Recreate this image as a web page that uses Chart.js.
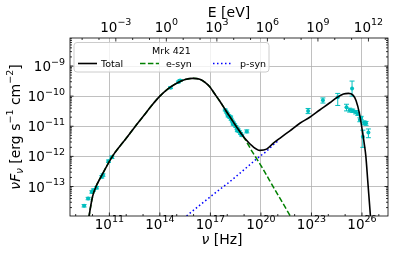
<!DOCTYPE html>
<html>
<head>
<meta charset="utf-8">
<script src="https://cdn.jsdelivr.net/npm/chart.js@4.4.0/dist/chart.umd.min.js"></script>
<style>
  html, body { margin: 0; padding: 0; background: #fff; }
</style>
</head>
<body>
<canvas id="myChart" width="411" height="257"></canvas>
<script>
// Modelo total (log10 nu [Hz], log10 nuFnu [erg s-1 cm-2])
const totalLogNu = [9.72, 9.80, 10.00, 10.20, 10.50, 11.19, 11.60, 12.00, 12.50, 13.00, 13.50, 14.00, 14.50, 15.00, 15.50, 15.95, 16.37, 16.70, 16.96, 17.26, 17.56, 17.96, 18.15, 18.55, 19.04, 19.53, 19.93, 20.33, 20.72, 21.12, 21.72, 22.31, 22.90, 23.49, 24.09, 24.50, 24.90, 25.20, 25.45, 25.65, 25.85, 26.04, 26.14, 26.23, 26.34, 26.43, 26.52];
const totalLogF  = [-14.30, -13.97, -13.34, -13.01, -12.68, -11.99, -11.68, -11.40, -11.03, -10.68, -10.32, -10.00, -9.75, -9.57, -9.45, -9.41, -9.44, -9.55, -9.69, -9.93, -10.17, -10.52, -10.68, -11.02, -11.40, -11.68, -11.80, -11.76, -11.57, -11.40, -11.15, -10.90, -10.70, -10.46, -10.22, -10.05, -9.93, -9.91, -9.96, -10.15, -10.58, -11.22, -11.60, -12.00, -12.80, -13.46, -14.12];

// Sincrotron de electrones
const esynLogNu = [9.72, 9.80, 10.00, 10.20, 10.50, 11.19, 11.60, 12.00, 12.50, 13.00, 13.50, 14.00, 14.50, 15.00, 15.50, 15.95, 16.37, 16.70, 16.96, 17.26, 17.56, 17.96, 18.15, 18.55, 19.04, 19.50, 20.03, 20.80, 21.71, 22.00];
const esynLogF  = [-14.30, -13.97, -13.34, -13.01, -12.68, -11.99, -11.68, -11.40, -11.03, -10.68, -10.32, -10.00, -9.75, -9.57, -9.45, -9.41, -9.44, -9.55, -9.69, -9.93, -10.17, -10.52, -10.68, -11.02, -11.42, -11.86, -12.33, -13.08, -13.95, -14.25];

// Sincrotron de protones (parte visible, despues queda bajo el total)
const psynLogNu = [15.40, 16.50, 17.50, 18.15, 19.00, 19.93, 20.33, 20.72, 21.00];
const psynLogF  = [-14.06, -13.56, -13.12, -12.84, -12.44, -12.00, -11.83, -11.62, -11.49];

// Observaciones Mrk 421 (log10 nu, log10 nuFnu, error abajo / arriba en dex)
const obsLogNu = [9.50, 9.74, 9.96, 10.05, 10.24, 10.55, 10.62, 10.95, 11.15,
  14.63, 15.10, 15.20,
  17.88, 17.95, 18.02, 18.05, 18.09, 18.16, 18.20, 18.23, 18.30, 18.35, 18.37, 18.44, 18.51, 18.58, 18.60, 18.65, 18.72, 18.79, 18.86, 19.16,
  22.80, 23.68, 24.56, 25.08, 25.27, 25.41, 25.45, 25.62, 25.75, 25.87, 25.95, 26.05, 26.12, 26.24, 26.38];
const obsLogF = [-13.64, -13.40, -13.18, -13.12, -13.04, -12.68, -12.62, -12.16, -12.03,
  -9.72, -9.53, -9.48,
  -10.46, -10.53, -10.59, -10.66, -10.65, -10.71, -10.69, -10.77, -10.83, -10.93, -10.89, -10.95, -11.01, -11.07, -11.15, -11.12, -11.18, -11.24, -11.30, -11.17,
  -10.49, -10.14, -10.04, -10.37, -10.46, -9.75, -10.48, -10.53, -10.58, -10.78, -10.72, -11.35, -10.88, -10.90, -11.21];
const obsErrLo = [0.04, 0.04, 0.04, 0.04, 0.04, 0.04, 0.04, 0.04, 0.04,
  0.03, 0.03, 0.03,
  0.03, 0.03, 0.03, 0.03, 0.03, 0.03, 0.03, 0.03, 0.03, 0.03, 0.03, 0.03, 0.03, 0.03, 0.03, 0.03, 0.03, 0.03, 0.03, 0.05,
  0.09, 0.09, 0.27, 0.12, 0.07, 0.25, 0.06, 0.06, 0.06, 0.07, 0.06, 0.35, 0.07, 0.07, 0.17];
const obsErrHi = [0.04, 0.04, 0.04, 0.04, 0.04, 0.04, 0.04, 0.04, 0.04,
  0.03, 0.03, 0.03,
  0.03, 0.03, 0.03, 0.03, 0.03, 0.03, 0.03, 0.03, 0.03, 0.03, 0.03, 0.03, 0.03, 0.03, 0.03, 0.03, 0.03, 0.03, 0.03, 0.05,
  0.08, 0.08, 0.13, 0.10, 0.06, 0.25, 0.05, 0.05, 0.05, 0.06, 0.05, 0.22, 0.06, 0.06, 0.12];

// Ticks
const xTickVals = [1e11, 1e14, 1e17, 1e20, 1e23, 1e26];
const xTickExp  = ['11', '14', '17', '20', '23', '26'];
const yTickVals = [1e-13, 1e-12, 1e-11, 1e-10, 1e-9];
const yTickExp  = ['\u221213', '\u221212', '\u221211', '\u221210', '\u22129'];
const eTickVals = [1e-3, 1, 1e3, 1e6, 1e9, 1e12];
const eTickExp  = ['\u22123', '0', '3', '6', '9', '12'];

const hPlanck = 4.1357e-15; // eV s
const FAM = '"DejaVu Sans", sans-serif';
const CIAN = '#00bfbf';

function puntos(lx, ly){
    return lx.map((v, i) => ({x: Math.pow(10, v), y: Math.pow(10, ly[i])}));
}

// Texto con super/subindices
function texto(ctx, partes, x, y, align){
    let w = 0;
    partes.forEach(p => { ctx.font = p.f; w += ctx.measureText(p.t).width; });
    let x0 = align === 'center' ? x - w / 2 : (align === 'right' ? x - w : x);
    ctx.textAlign = 'left';
    ctx.textBaseline = 'alphabetic';
    partes.forEach(p => {
        ctx.font = p.f;
        ctx.fillText(p.t, x0, y + (p.dy || 0));
        x0 += ctx.measureText(p.t).width;
    });
}

const F_MAIN = '13.5px ' + FAM;
const F_SUP = '9.5px ' + FAM;

function potencia(ctx, exp, x, y, align){
    texto(ctx, [{t: '10', f: F_MAIN}, {t: exp, f: F_SUP, dy: -6.5}], x, y, align);
}

// Barras de error
const errores = {
    id: 'errores',
    beforeDatasetsDraw(chart){
        const {ctx, chartArea: a, scales: {x, y}} = chart;
        ctx.save();
        ctx.beginPath();
        ctx.rect(a.left, a.top, a.right - a.left, a.bottom - a.top);
        ctx.clip();
        ctx.strokeStyle = CIAN;
        ctx.lineWidth = 1;
        obsLogNu.forEach((v, i) => {
            const px = x.getPixelForValue(Math.pow(10, v));
            const y1 = y.getPixelForValue(Math.pow(10, obsLogF[i] + obsErrHi[i]));
            const y2 = y.getPixelForValue(Math.pow(10, obsLogF[i] - obsErrLo[i]));
            ctx.beginPath();
            ctx.moveTo(px, y1); ctx.lineTo(px, y2);
            ctx.moveTo(px - 2.5, y1); ctx.lineTo(px + 2.5, y1);
            ctx.moveTo(px - 2.5, y2); ctx.lineTo(px + 2.5, y2);
            ctx.stroke();
        });
        ctx.restore();
    }
};

// Marco, ticks, etiquetas, titulos y leyenda
const ejes = {
    id: 'ejes',
    afterDraw(chart){
        const {ctx, chartArea: a, scales: {x, y, x2}} = chart;
        ctx.save();
        ctx.fillStyle = '#000';
        ctx.strokeStyle = '#000';
        ctx.lineWidth = 0.8;

        // ticks hacia adentro
        ctx.beginPath();
        for (let e = -14; e <= -8; e++){
            for (let m = 1; m <= 9; m++){
                const v = m * Math.pow(10, e);
                if (v < y.min || v > y.max) continue;
                const py = y.getPixelForValue(v);
                const l = m === 1 ? 3.5 : 2;
                ctx.moveTo(a.left, py); ctx.lineTo(a.left + l, py);
                ctx.moveTo(a.right, py); ctx.lineTo(a.right - l, py);
            }
        }
        for (let e = 9; e <= 27; e++){
            const px = x.getPixelForValue(Math.pow(10, e));
            const l = (e % 3 === 2) ? 3.5 : 2;
            ctx.moveTo(px, a.bottom); ctx.lineTo(px, a.bottom - l);
        }
        for (let e = -6; e <= 13; e++){
            const v = Math.pow(10, e) / hPlanck;
            if (v < x2.min || v > x2.max) continue;
            const px = x2.getPixelForValue(v);
            const l = (e % 3 === 0) ? 3.5 : 2;
            ctx.moveTo(px, a.top); ctx.lineTo(px, a.top + l);
        }
        ctx.stroke();

        ctx.strokeRect(a.left, a.top, a.right - a.left, a.bottom - a.top);

        // etiquetas
        xTickVals.forEach((v, i) => potencia(ctx, xTickExp[i], x.getPixelForValue(v), a.bottom + 12.5, 'center'));
        yTickVals.forEach((v, i) => potencia(ctx, yTickExp[i], a.left - 5, y.getPixelForValue(v) + 5, 'right'));
        eTickVals.forEach((v, i) => potencia(ctx, eTickExp[i], x2.getPixelForValue(v / hPlanck), a.top - 6.5, 'center'));

        // titulos
        const F_T = '14px ' + FAM;
        const F_TI = 'italic 14px ' + FAM;
        texto(ctx, [{t: 'E [eV]', f: F_T}], (a.left + a.right) / 2, 16.5, 'center');
        texto(ctx, [{t: '\u03bd', f: F_TI}, {t: ' [Hz]', f: F_T}], 222, 244, 'center');
        ctx.save();
        ctx.translate(19.5, (a.top + a.bottom) / 2);
        ctx.rotate(-Math.PI / 2);
        texto(ctx, [
            {t: '\u03bdF', f: F_TI},
            {t: '\u03bd', f: 'italic 10px ' + FAM, dy: 3},
            {t: ' [erg s', f: F_T},
            {t: '\u22121', f: F_SUP, dy: -6.5},
            {t: ' cm', f: F_T},
            {t: '\u22122', f: F_SUP, dy: -6.5},
            {t: ']', f: F_T}
        ], 0, 0, 'center');
        ctx.restore();

        // leyenda
        const bx = 74, by = 42.5, bw = 195, bh = 29.5;
        ctx.beginPath();
        ctx.roundRect(bx, by, bw, bh, 3);
        ctx.fillStyle = 'rgba(255,255,255,0.8)';
        ctx.fill();
        ctx.strokeStyle = '#cccccc';
        ctx.lineWidth = 1;
        ctx.stroke();
        ctx.fillStyle = '#000';
        const F_L = '9.5px ' + FAM;
        texto(ctx, [{t: 'Mrk 421', f: F_L}], bx + bw / 2, 53.5, 'center');
        const ly = 63.5;
        const pos = [[78, 101], [140, 166], [213, 240]];
        chart.data.datasets.slice(0, 3).forEach((ds, i) => {
            ctx.beginPath();
            ctx.strokeStyle = ds.borderColor;
            ctx.lineWidth = ds.borderWidth;
            ctx.setLineDash(ds.borderDash || []);
            ctx.moveTo(pos[i][0], ly); ctx.lineTo(pos[i][0] + 19, ly);
            ctx.stroke();
            ctx.setLineDash([]);
            texto(ctx, [{t: ds.label, f: F_L}], pos[i][1], ly + 3.4, 'left');
        });
        ctx.restore();
    }
};

const ctx = document.getElementById('myChart');

new Chart(ctx, {
    type: 'line',
    data: {
        datasets: [{
            label: 'Total',
            data: puntos(totalLogNu, totalLogF),
            borderColor: '#000000',
            borderWidth: 1.6,
            pointRadius: 0,
            order: 0,
            cubicInterpolationMode: 'monotone'
        },
        {
            label: 'e-syn',
            data: puntos(esynLogNu, esynLogF),
            borderColor: '#008000',
            borderWidth: 1.5,
            borderDash: [5.5, 2.4],
            pointRadius: 0,
            order: 1,
            cubicInterpolationMode: 'monotone'
        },
        {
            label: 'p-syn',
            data: puntos(psynLogNu, psynLogF),
            borderColor: '#0000ff',
            borderWidth: 1.5,
            borderDash: [1.5, 2.5],
            pointRadius: 0,
            order: 2,
            cubicInterpolationMode: 'monotone'
        },
        {
            label: 'Mrk 421',
            type: 'scatter',
            data: puntos(obsLogNu, obsLogF),
            pointRadius: 2,
            pointBorderWidth: 0,
            pointBackgroundColor: CIAN,
            order: 3,
            showLine: false
        }]
    },
    options: {
        responsive: false,
        animation: false,
        devicePixelRatio: 1,
        layout: { padding: { left: 0, right: 23, top: 0, bottom: 0 } },
        plugins: { legend: { display: false }, tooltip: { enabled: false } },
        scales: {
            x: {
                type: 'logarithmic',
                position: 'bottom',
                min: 4.6e8,
                max: 3.5e27,
                afterBuildTicks: s => { s.ticks = xTickVals.map(v => ({value: v})); },
                afterFit: s => { s.height = 41; },
                ticks: { display: false },
                grid: { color: '#b0b0b0', lineWidth: 0.8, drawTicks: false },
                border: { display: false }
            },
            x2: {
                type: 'logarithmic',
                position: 'top',
                min: 4.6e8,
                max: 3.5e27,
                afterFit: s => { s.height = 38; },
                ticks: { display: false },
                grid: { display: false, drawTicks: false },
                border: { display: false }
            },
            y: {
                type: 'logarithmic',
                position: 'left',
                min: 1.05e-14,
                max: 8.5e-9,
                afterBuildTicks: s => { s.ticks = yTickVals.map(v => ({value: v})); },
                afterFit: s => { s.width = 70; },
                ticks: { display: false },
                grid: { color: '#b0b0b0', lineWidth: 0.8, drawTicks: false },
                border: { display: false }
            }
        }
    },
    plugins: [errores, ejes]
});
</script>
</body>
</html>
